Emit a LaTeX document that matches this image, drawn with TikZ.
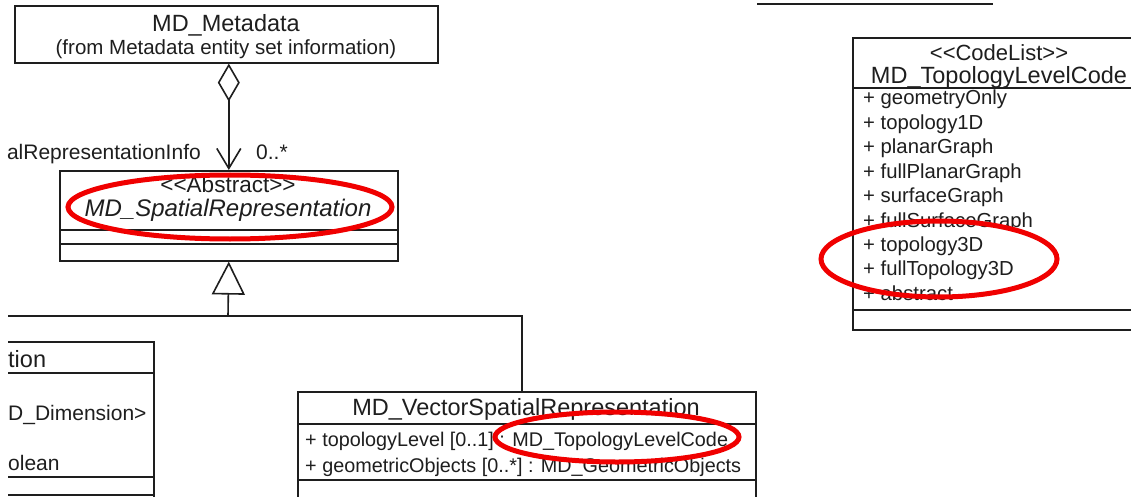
\documentclass[tikz,border=0pt]{standalone}
\usepackage{fontspec}
\setmainfont{Liberation Sans}
\usetikzlibrary{arrows.meta}
\definecolor{ink}{HTML}{1E1E1E}
\definecolor{mark}{HTML}{F00000}

\begin{document}
\begin{tikzpicture}[x=1pt,y=-1pt,
  umlbox/.style={draw=ink, line width=1.6pt, rectangle, inner sep=0pt, anchor=north west},
  head/.style={font=\fontsize{23.5}{26}\selectfont, text=ink, inner sep=0pt, anchor=base},
  sub/.style={font=\fontsize{20.5}{24}\selectfont, text=ink, inner sep=0pt, anchor=base},
  item/.style={font=\fontsize{20.3}{23}\selectfont, text=ink, inner sep=0pt, anchor=base west},
  wire/.style={draw=ink, line width=1.6pt},
  highlight/.style={draw=mark, line width=5pt},
]
\clip (0,0) rectangle (1131,497);
\fill[white] (0,0) rectangle (1131,497);

% ---------- MD_Metadata ----------
\node[umlbox, minimum width=423pt, minimum height=57pt] (meta) at (14,5) {};
\node[head] (metaname) at (226,32) {MD\_Metadata};
\node[sub]  (metafrom) at (226,55) {(from Metadata entity set information)};

% ---------- MD_SpatialRepresentation ----------
\node[umlbox, minimum width=338pt, minimum height=90pt] (spatial) at (59,170) {};
\node[head, font=\fontsize{22.5}{26}\selectfont] (spstereo) at (228,193) {<{}<Abstract>{}>};
\node[head, font=\fontsize{24}{26}\selectfont\itshape] (spname) at (228,216) {MD\_SpatialRepresentation};
\draw[wire] (spatial.west |- 0,230) -- (spatial.east |- 0,230);
\draw[wire] (spatial.west |- 0,244) -- (spatial.east |- 0,244);

% aggregation MD_Metadata <>-- MD_SpatialRepresentation
\draw[wire, {Diamond[open, length=38pt, width=22pt, line width=1.6pt]}-{Straight Barb[length=20pt, width=24pt, line width=1.6pt]}]
  (spatial.north |- meta.south) -- (spatial.north);
\node[sub, font=\fontsize{21}{24}\selectfont, anchor=base east] (rolename) at (201,160) {alRepresentationInfo};
\node[sub, font=\fontsize{21}{24}\selectfont, anchor=base west] (mult) at (256,160) {0..*};

% ---------- left subclass (cut off) ----------
\coordinate (gridNW) at (8,342);
\draw[wire] (gridNW) -- (154,342) -- (154,500);
\draw[wire] (8,373) -- (154,373);
\draw[wire] (8,477) -- (154,477);
\draw[wire] (8,495) -- (154,495);
\begin{scope}
  \clip (8,342) rectangle (154,497);
  \node[head, anchor=base west] (gridname) at (8,367) {tion};
  \node[item, font=\fontsize{21}{24}\selectfont] (grida) at (8,420) {D\_Dimension>};
  \node[item, font=\fontsize{21}{24}\selectfont] (gridb) at (8,470) {olean};
\end{scope}

% ---------- MD_VectorSpatialRepresentation ----------
\node[umlbox, minimum width=458pt, minimum height=120pt] (vector) at (297,391) {};
\node[head] (vecname) at (526,415) {MD\_VectorSpatialRepresentation};
\draw[wire] (vector.west |- 0,424) -- (vector.east |- 0,424);
\draw[wire] (vector.west |- 0,480) -- (vector.east |- 0,480);
\node[item, font=\fontsize{19.8}{23}\selectfont] (veca) at (305,446) {+ topologyLevel [0..1] : MD\_TopologyLevelCode};
\node[item, font=\fontsize{19.8}{23}\selectfont] (vecb) at (305,472) {+ geometricObjects [0..*] : MD\_GeometricObjects};

% generalisation tree
\coordinate (joint) at (228,316);
\coordinate (leftend) at (8,316);
\coordinate (vecjoin) at (522,391);
\draw[wire] (leftend) -- (joint);
\draw[wire] (vecjoin) |- (joint);
\draw[wire, -{Triangle[open, length=33pt, width=33pt, line width=1.6pt]}] (joint) -- (spatial.south);

% ---------- MD_TopologyLevelCode ----------
\draw[wire, line width=2pt] (757,4) -- (993,4);
\node[umlbox, minimum width=294pt, minimum height=292pt] (code) at (852,37) {};
\node[head, font=\fontsize{22}{26}\selectfont] (codestereo) at (999,60.5) {<{}<CodeList>{}>};
\node[head] (codename) at (999,83.5) {MD\_TopologyLevelCode};
\draw[wire] (code.west |- 0,88) -- (code.east |- 0,88);
\draw[wire] (code.west |- 0,310) -- (code.east |- 0,310);
\foreach \lbl [count=\i from 0] in {geometryOnly, topology1D, planarGraph, fullPlanarGraph,
    surfaceGraph, fullSurfaceGraph, topology3D, fullTopology3D, abstract}
  \node[item] (code\i) at (863,{105+24.4*\i}) {+ \lbl};

% ---------- red highlights ----------
\draw[highlight] (230,207) ellipse [x radius=162pt, y radius=32pt];
\draw[highlight] (617,437) ellipse [x radius=122pt, y radius=25pt];
\draw[highlight] (939,259) ellipse [x radius=118pt, y radius=38pt];
\end{tikzpicture}
\end{document}
